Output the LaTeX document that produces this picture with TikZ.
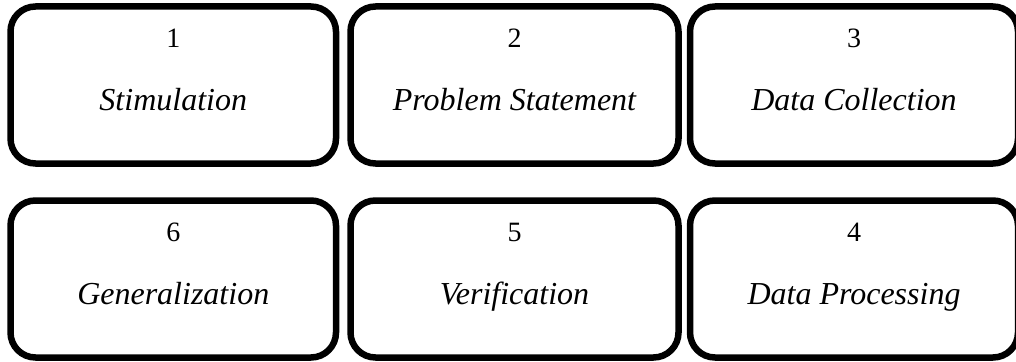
\documentclass[tikz,border=0pt]{standalone}
\usepackage{fontspec}
\setmainfont{Liberation Serif}
\begin{document}
\begin{tikzpicture}[x=1pt,y=1pt,
  stage/.style={draw=black, line width=6.5pt, rounded corners=25pt,
    minimum height=157pt, inner sep=0pt},
  num/.style={anchor=base, font=\fontsize{28}{33}\selectfont},
  label/.style={anchor=base, font=\fontsize{32}{38}\selectfont\itshape}]
\useasboundingbox (0,0) rectangle (1016,-361);
% top row: stages 1-3
\node[stage, minimum width=325.5pt] (b1) at (173.25,-85) {};
\node[stage, minimum width=328pt] (b2) at (514.5,-85) {};
\node[stage, minimum width=328pt] (b3) at (854,-85) {};
% bottom row: stages 6, 5, 4
\node[stage, minimum width=325.5pt] (b6) at (173.25,-279) {};
\node[stage, minimum width=328pt] (b5) at (514.5,-279) {};
\node[stage, minimum width=328pt] (b4) at (854,-279) {};
% numbers and titles
\foreach \b/\n/\t in {b1/1/Stimulation, b2/2/Problem Statement, b3/3/Data Collection,
                      b6/6/Generalization, b5/5/Verification, b4/4/Data Processing}{
  \node[num] (\b n) at ([yshift=-44.5pt]\b.north) {\n};
  \node[label] (\b t) at ([yshift=-107.5pt]\b.north) {\t};
}
\end{tikzpicture}
\end{document}
